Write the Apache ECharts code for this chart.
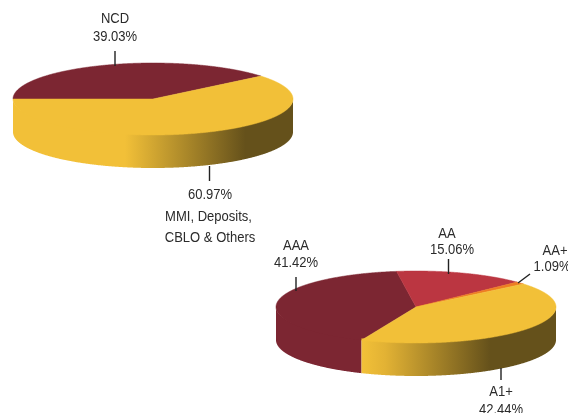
<!DOCTYPE html>
<html><head><meta charset="utf-8">
<style>html,body{margin:0;padding:0;background:#fff}#c{width:568px;height:413px}</style>
<script src="https://cdn.jsdelivr.net/npm/echarts@6/dist/echarts.min.js"></script>
</head><body><div id="c"></div>
<script>
// ---- data ----
const assetCategories = ['NCD', 'MMI, Deposits, CBLO & Others'];
const assetValues = [39.03, 60.97];
const ratingCategories = ['AAA', 'AA', 'AA+', 'A1+'];
const ratingValues = [41.42, 15.06, 1.09, 42.44];

// ---- styling & layout ----
const MAROON = '#7c2632', YELLOW = '#f2c038', RED = '#bb3641', ORANGE = '#ee7d22', DARK = '#65511b';
const assetPie = {cx: 153, cy: 99, rx: 140, ry: 36, depth: 33, start: 180,
  colors: [MAROON, YELLOW],
  wall: [null, {x0: 13, x1: 293, stops: [[0, YELLOW], [0.40, YELLOW], [0.83, DARK], [1, DARK]]}]};
const ratingPie = {cx: 416, cy: 307, rx: 140, ry: 36, depth: 33, start: 247.1,
  colors: [MAROON, RED, ORANGE, YELLOW],
  wall: [null, null, null, {x0: 362, x1: 556, stops: [[0, YELLOW], [0.12, '#e2b234'], [0.66, DARK], [1, DARK]]}]};

const FONT = '"Liberation Sans", Arial, sans-serif';
const textColor = '#2b2b2b';
const labels = [
  ['NCD', 115, 19], ['39.03%', 115, 37],
  ['60.97%', 210, 195], ['MMI, Deposits,', 208.5, 217], ['CBLO & Others', 210, 238],
  ['AAA', 296, 246], ['41.42%', 296, 263],
  ['AA', 447, 234], ['15.06%', 452, 250],
  ['AA+', 555, 251], ['1.09%', 552, 267],
  ['A1+', 501, 392], ['42.44%', 501, 410]
];
const leaders = [
  [115, 51, 115, 66], [209.5, 166, 209.5, 181], [296, 277, 296, 291],
  [448.5, 259, 448.5, 274], [518, 283, 530, 274], [501, 368, 501, 380]
];

function sliceRows(values, startDeg) {
  const total = values.reduce((s, v) => s + v, 0);
  let a = startDeg;
  return values.map((v, i) => {
    const sweep = v / total * 360;
    const row = [v, a, sweep, i];
    a -= sweep;
    return row;
  });
}

function pieSeries(values, pie) {
  return {
    type: 'custom', coordinateSystem: 'none', silent: true, animation: false,
    data: sliceRows(values, pie.start),
    renderItem(params, api) {
      const a0 = api.value(1), sweep = api.value(2), i = api.value(3);
      const pt = (deg, dy, insetY) => {
        const r = deg * Math.PI / 180;
        return [pie.cx + pie.rx * Math.cos(r), pie.cy - (pie.ry - (insetY || 0)) * Math.sin(r) + (dy || 0)];
      };
      const n = Math.max(4, Math.ceil(sweep * 3));
      const top = [[pie.cx, pie.cy]], front = [];
      for (let k = 0; k <= n; k++) {
        const a = a0 - sweep * k / n;
        top.push(pt(a));
        if (Math.sin(a * Math.PI / 180) <= 0.0001) front.push(a);
      }
      const children = [];
      if (front.length > 1) {
        const g = pie.wall[i];
        const fill = g ? new echarts.graphic.LinearGradient(g.x0, 0, g.x1, 0,
            g.stops.map(s => ({offset: s[0], color: s[1]})), true) : pie.colors[i];
        // upper edge tucked under the top face so no seam shows between them
        const wall = front.map(a => pt(a, 0, 2)).concat(front.slice().reverse().map(a => pt(a, pie.depth)));
        children.push({type: 'polygon', shape: {points: wall}, style: {fill}});
      }
      children.push({type: 'polygon', shape: {points: top},
        style: {fill: pie.colors[i], stroke: pie.colors[i], lineWidth: 0.5}});
      return {type: 'group', children};
    }
  };
}

const graphics = leaders.map(l => ({type: 'line', silent: true, z: 10,
    shape: {x1: l[0], y1: l[1], x2: l[2], y2: l[3]},
    style: {stroke: '#222', lineWidth: 1.4}}))
  .concat(labels.map(t => ({type: 'text', silent: true, z: 10, x: t[1], y: t[2],
    scaleX: 0.93,
    style: {text: t[0], font: '14px ' + FONT, fill: textColor, align: 'center', verticalAlign: 'middle'}})));

const chart = echarts.init(document.getElementById('c'), null, {renderer: 'canvas'});
chart.setOption({
  animation: false,
  backgroundColor: '#fff',
  series: [pieSeries(assetValues, assetPie), pieSeries(ratingValues, ratingPie)],
  graphic: {elements: graphics}
});
</script></body></html>
